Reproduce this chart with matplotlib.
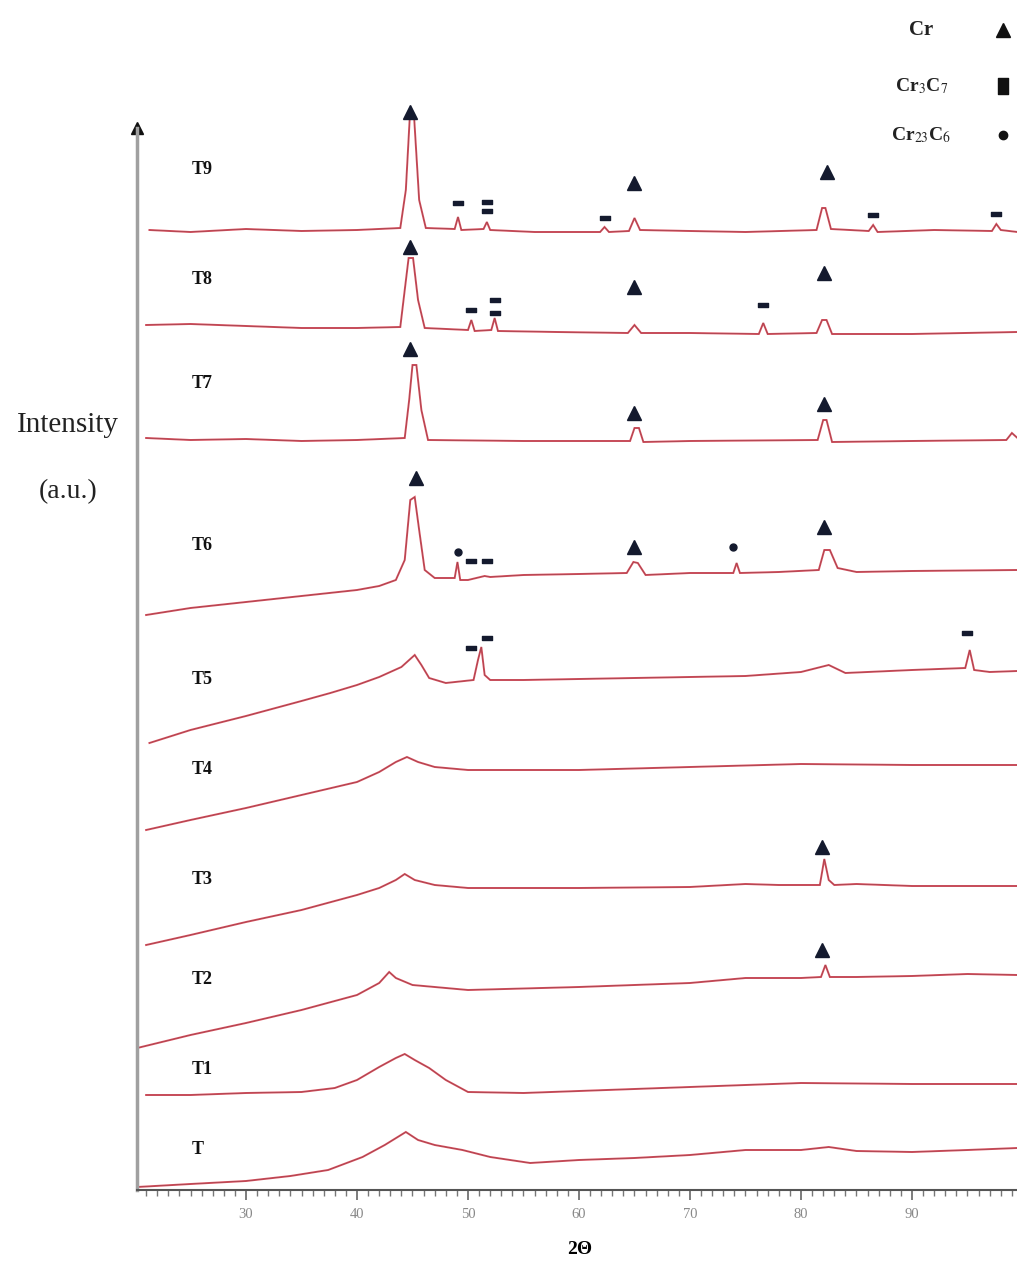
import matplotlib
matplotlib.use("Agg")
import matplotlib.pyplot as plt
from matplotlib.path import Path

plt.rcParams['font.family'] = ['Liberation Serif', 'DejaVu Serif']
plt.rcParams['mathtext.fontset'] = 'stix'

# ---------------- data (2theta in degrees, intensity in a.u.) ----------------
t9_x = [21.3, 25, 30, 35, 40, 43.9, 44.4, 44.75, 45.15, 45.6, 46.2, 48.8, 49.1, 49.4, 51.4, 51.7, 52.0, 56,
        61.9, 62.3, 62.7, 64.5, 65.0, 65.5, 70, 75, 81.4, 81.9, 82.2, 82.7, 86.1, 86.5, 86.9, 92, 97.2, 97.6, 98.0, 99.5]
t9_y = [960, 958, 961, 959, 960, 962, 1000, 1072, 1072, 990, 962, 961, 973, 960, 961, 968, 960, 958,
        958, 963, 958, 959, 972, 960, 959, 958, 960, 982, 982, 961, 959, 965, 958, 960, 959, 966, 960, 958]

t8_x = [21.0, 25, 30, 35, 40, 43.9, 44.3, 44.65, 45.05, 45.5, 46.1, 50.0, 50.3, 50.6, 52.1, 52.4, 52.7, 58,
        64.4, 65.0, 65.6, 70, 76.2, 76.6, 77.0, 81.4, 81.9, 82.3, 82.8, 90, 99.5]
t8_y = [865, 866, 864, 862, 862, 863, 900, 932, 932, 890, 862, 860, 870, 859, 860, 872, 859, 858,
        857, 865, 857, 857, 856, 867, 856, 857, 870, 870, 856, 856, 858]

t7_x = [21.0, 25, 30, 35, 40, 44.3, 44.7, 45.0, 45.35, 45.8, 46.4, 55, 64.6, 65.0, 65.4, 65.8, 70,
        81.5, 82.0, 82.3, 82.8, 90, 98.5, 99.0, 99.5]
t7_y = [752, 750, 751, 749, 750, 752, 790, 825, 825, 780, 750, 749, 749, 762, 762, 748, 749,
        750, 770, 770, 748, 749, 750, 757, 752]

t6_x = [21.0, 25, 30, 35, 40, 42, 43.5, 44.3, 44.8, 45.2, 45.6, 46.1, 47, 48.8, 49.05, 49.3, 50, 51.5, 52,
        55, 60, 64.3, 64.9, 65.3, 66, 70, 73.9, 74.2, 74.5, 78, 81.6, 82.1, 82.6, 83.3, 85, 90, 99.5]
t6_y = [575, 582, 588, 594, 600, 604, 610, 630, 690, 693, 660, 620, 612, 612, 628, 610, 610, 614, 613,
        615, 616, 617, 628, 627, 615, 617, 617, 627, 617, 618, 620, 640, 640, 622, 618, 619, 620]

t5_x = [21.3, 25, 30, 35, 37.6, 40, 42, 44, 45.2, 45.8, 46.5, 48, 50.5, 50.9, 51.2, 51.5, 52, 55, 60, 65,
        70, 75, 80, 82.5, 84, 88, 90, 94.8, 95.2, 95.6, 97, 99.5]
t5_y = [447, 460, 474, 489, 497, 505, 513, 523, 535, 525, 512, 507, 510, 530, 543, 515, 510, 510, 511, 512,
        513, 514, 518, 525, 517, 519, 520, 522, 540, 520, 518, 519]

t4_x = [21.0, 25, 30, 35, 40, 42, 43.5, 44.5, 45.5, 47, 50, 60, 70, 80, 90, 99.5]
t4_y = [360, 370, 382, 395, 408, 418, 428, 433, 428, 423, 420, 420, 423, 426, 425, 425]

t3_x = [21.0, 25, 30, 35, 40, 42, 43.5, 44.3, 45.2, 47, 50, 60, 70, 75, 78, 81.7, 82.1, 82.5, 83, 85, 90, 99.5]
t3_y = [245, 255, 268, 280, 295, 302, 310, 316, 310, 305, 302, 302, 303, 306, 305, 305, 331, 310, 305, 306, 304, 304]

t2_x = [20.2, 25, 30, 35, 40, 42, 42.9, 43.5, 45, 48, 50, 60, 70, 75, 80, 81.8, 82.2, 82.6, 85, 90, 95, 99.5]
t2_y = [142, 155, 167, 180, 195, 207, 218, 212, 205, 202, 200, 203, 207, 212, 212, 213, 225, 213, 213, 214, 216, 215]

t1_x = [21.0, 25, 30, 35, 38, 40, 42, 43.5, 44.3, 45.2, 46.5, 48, 50, 55, 60, 70, 80, 90, 99.5]
t1_y = [95, 95, 97, 98, 102, 110, 123, 132, 136, 130, 122, 110, 98, 97, 99, 103, 107, 106, 106]

t0_x = [20.2, 25, 30, 34, 37.4, 40.5, 42.5, 44.4, 45.5, 47, 49.5, 52, 55.6, 60, 65, 70, 75, 80, 82.5, 85, 90, 95, 99.5]
t0_y = [3, 6, 9, 14, 20, 33, 45, 58, 50, 45, 40, 33, 27, 30, 32, 35, 40, 40, 43, 39, 38, 40, 42]

trace_names = ['T9', 'T8', 'T7', 'T6', 'T5', 'T4', 'T3', 'T2', 'T1', 'T']
trace_label_y = [1020, 910, 807, 644, 510, 420, 310, 210, 120, 40]

# phase markers
cr_x = [44.8, 65.0, 82.3, 44.8, 65.0, 82.1, 44.8, 65.0, 82.1, 45.3, 65.0, 82.1, 81.9, 81.9]
cr_y = [1078, 1007, 1018, 943, 903, 917, 841, 777, 786, 712, 643, 663, 343, 240]
cr3c7_x = [49.1, 51.7, 51.7, 62.3, 86.5, 97.6, 50.3, 52.4, 52.4, 76.6, 50.3, 51.7, 50.3, 51.7, 95.0]
cr3c7_y = [987, 988, 979, 972, 975, 976, 880, 890, 877, 885, 629, 629, 542, 552, 557]
cr23c6_x = [49.1, 73.9]
cr23c6_y = [638, 643]

legend_names = ['Cr', r'Cr$_3$C$_7$', r'Cr$_{23}$C$_6$']
legend_y = [1160, 1104, 1055]

# ---------------- figure ----------------
W, H = 1017, 1263
fig = plt.figure(figsize=(W / 100, H / 100), dpi=100)
ax = fig.add_axes([137 / W, 1 - 1190 / H, 1 - 137 / W, 1190 / H])
ax.set_xlim(20.18, 99.46)
ax.set_ylim(0, 1190)

line_color = '#d9505e'
xs = [t9_x, t8_x, t7_x, t6_x, t5_x, t4_x, t3_x, t2_x, t1_x, t0_x]
ys = [t9_y, t8_y, t7_y, t6_y, t5_y, t4_y, t3_y, t2_y, t1_y, t0_y]
for x, y in zip(xs, ys):
    ax.plot(x, y, color=line_color, lw=1.4, solid_joinstyle='miter')
    ax.plot(x, y, color='#6a3a40', lw=0.4, alpha=0.6)

for name, ly in zip(trace_names, trace_label_y):
    ax.text(25.1, ly, name, fontsize=13, fontweight='bold', ha='left', va='center', color='#111111')

mk = '#141a2e'
dash = Path([(-1, -0.45), (1, -0.45), (1, 0.45), (-1, 0.45), (-1, -0.45)],
            [Path.MOVETO, Path.LINETO, Path.LINETO, Path.LINETO, Path.CLOSEPOLY])
tallbox = Path([(-0.65, -1), (0.65, -1), (0.65, 1), (-0.65, 1), (-0.65, -1)],
               [Path.MOVETO, Path.LINETO, Path.LINETO, Path.LINETO, Path.CLOSEPOLY])
ax.plot(cr_x, cr_y, ls='none', marker='^', ms=10, color=mk, clip_on=False)
ax.plot(cr3c7_x, cr3c7_y, ls='none', marker=dash, ms=6.5, color=mk, clip_on=False)
ax.plot(cr23c6_x, cr23c6_y, ls='none', marker='o', ms=5, color=mk, clip_on=False)

# legend (top right)
leg_markers = ['^', tallbox, 'o']
leg_sizes = [10, 11, 6]
leg_fs = [15, 14, 14]
for name, ly, m, s, fs in zip(legend_names, legend_y, leg_markers, leg_sizes, leg_fs):
    ax.text(90.85, ly, name, fontsize=fs, fontweight='bold', ha='center', va='center', color='#222222')
    ax.plot([98.2], [ly], ls='none', marker=m, ms=s, color='#111111', clip_on=False)

# axes styling
for s in ['top', 'right']:
    ax.spines[s].set_visible(False)
ax.spines['left'].set_color('#a0a0a0')
ax.spines['left'].set_linewidth(2.5)
ax.spines['left'].set_bounds(0, 1062)
ax.spines['bottom'].set_color('#555555')
ax.spines['bottom'].set_linewidth(1.5)
ax.plot([20.18], [1062], marker='^', ms=8, color='#111111', clip_on=False)

ax.set_yticks([])
ax.set_xticks(range(30, 100, 10))
ax.set_xticks(range(21, 100), minor=True)
ax.tick_params(axis='x', which='major', length=7, width=1.2, color='#666666',
               labelsize=10.5, labelcolor='#888888', pad=6)
ax.tick_params(axis='x', which='minor', length=4, width=1.0, color='#777777')

fig.text(580 / W, 1 - 1250 / H, '2Θ', fontsize=14, fontweight='bold', ha='center', va='center')
fig.text(68 / W, 1 - 425 / H, 'Intensity', fontsize=21, ha='center', va='center', color='#222222')
fig.text(68 / W, 1 - 492 / H, '(a.u.)', fontsize=20, ha='center', va='center', color='#222222')

fig.savefig('out.png', dpi=100, facecolor='white')
